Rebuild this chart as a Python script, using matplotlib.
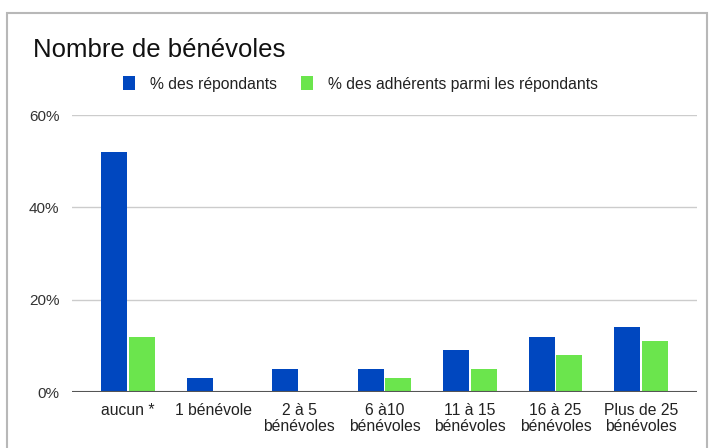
import matplotlib
matplotlib.use("Agg")
import matplotlib.pyplot as plt
from matplotlib.patches import Rectangle
import numpy as np

plt.rcParams['font.family'] = ['Liberation Sans', 'DejaVu Sans']

categories = ["aucun *", "1 bénévole", "2 à 5\nbénévoles", "6 à10\nbénévoles",
              "11 à 15\nbénévoles", "16 à 25\nbénévoles", "Plus de 25\nbénévoles"]
repondants = [52, 3, 5, 5, 9, 12, 14]
adherents = [12, 0, 0, 3, 5, 8, 11]
series_names = ["% des répondants", "% des adhérents parmi les répondants"]
yticks = [0, 20, 40, 60]
title = "Nombre de bénévoles"

blue = "#0047BF"
green = "#6BE54D"

W, H = 709, 448
fig = plt.figure(figsize=(W / 100, H / 100), dpi=100)

# outer frame
fig.add_artist(Rectangle((7.5 / W, -0.1), (707 - 7.5) / W, (H - 13.5) / H + 0.1,
                         transform=fig.transFigure, fill=False, edgecolor="#b8b8b8", lw=1.5))

left, right = 72 / W, 697 / W
bottom, top = (H - 392) / H, (H - 115) / H
ax = fig.add_axes([left, bottom, right - left, top - bottom])

x = np.arange(len(categories))
bw = 0.30
ax.bar(x - bw / 2 - 0.01, repondants, width=bw, color=blue, zorder=3, label=series_names[0])
ax.bar(x + bw / 2 + 0.01, adherents, width=bw, color=green, zorder=3, label=series_names[1])

ax.set_xlim(-0.655, len(categories) - 1 + 0.655)
ax.set_ylim(0, 60)
ax.set_yticks(yticks)
ax.set_yticklabels([f"{v}%" for v in yticks])
ax.yaxis.grid(True, color="#cccccc", lw=1, zorder=0)
ax.axhline(0, color="#555555", lw=1.5, zorder=4)
for s in ax.spines.values():
    s.set_visible(False)
ax.tick_params(axis="y", length=0, pad=9, labelsize=11, labelcolor="#333333")
ax.tick_params(axis="x", length=0, pad=8, labelsize=11.3, labelcolor="#222222")
ax.set_xticks(x)
ax.set_xticklabels(categories, linespacing=1.05, va="top")

fig.text(33 / W, 1 - 57 / H, title, fontsize=18.5, color="#111111", ha="left", va="baseline")

leg = ax.legend(loc="center left", bbox_to_anchor=(123 / W, 1 - 84 / H),
                bbox_transform=fig.transFigure, ncol=2, frameon=False,
                fontsize=11.3, handlelength=0.78, handleheight=0.95,
                handletextpad=0.95, columnspacing=1.5, borderpad=0,
                borderaxespad=0)
for t in leg.get_texts():
    t.set_color("#222222")

fig.savefig("out.png", dpi=100)
